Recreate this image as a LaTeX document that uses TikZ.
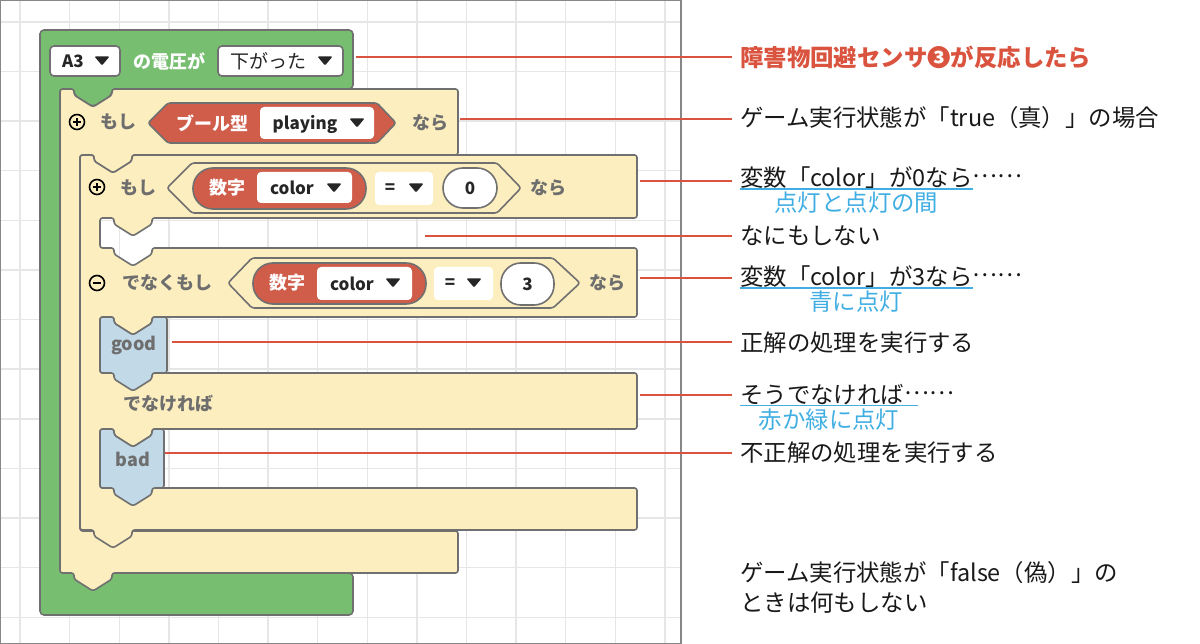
\documentclass[tikz,border=0pt]{standalone}
\usepackage{fontspec}
\setmainfont{Noto Sans CJK JP}
\newfontfamily\jpfull[CharacterWidth=Full]{Noto Sans CJK JP}
\usetikzlibrary{positioning}

\definecolor{hatgreen}{RGB}{119,190,113}
\definecolor{ifyellow}{RGB}{252,238,190}
\definecolor{edgegray}{RGB}{112,112,112}
\definecolor{ledblue}{RGB}{194,217,232}
\definecolor{varred}{RGB}{208,92,74}
\definecolor{wordgray}{RGB}{110,110,110}
\definecolor{calloutred}{RGB}{218,83,62}
\definecolor{noteblue}{RGB}{64,174,226}
\definecolor{gridgray}{RGB}{230,230,230}
\definecolor{framegray}{RGB}{135,135,135}

\tikzset{
  notch/.style 2 args={insert path={-- ({#1+14},#2) -- ({#1+14},{#2+6}) -- ({#1+33},{#2+18}) -- ({#1+52},{#2+6}) -- ({#1+52},#2)}},
  tab/.style 2 args={insert path={-- ({#1+52},#2) -- ({#1+52},{#2+6}) -- ({#1+33},{#2+18}) -- ({#1+14},{#2+6}) -- ({#1+14},#2)}},
  block/.style={draw=edgegray, line width=1.6pt, rounded corners=2.5pt, line join=round},
  word/.style={font=\bfseries\fontsize{18}{20}\selectfont, text=wordgray, inner sep=0pt},
  lbl/.style={font=\bfseries\fontsize{17}{20}\selectfont, text=black!85, inner sep=0pt},
  ddbox/.style={draw=edgegray, line width=1.6pt, fill=white, rounded corners=4pt, inner sep=0pt},
  valbox/.style={fill=white, rounded corners=4pt, inner sep=0pt},
  pill/.style={draw=edgegray, line width=1.6pt, fill=varred, rounded corners=20pt, inner sep=0pt},
  numpill/.style={draw=edgegray, line width=1.6pt, fill=white, rounded corners=20pt, inner sep=0pt},
  sign/.style={draw=black, line width=1.6pt, circle, minimum size=15pt, inner sep=0pt},
  ann/.style={anchor=west, inner sep=0pt, font=\fontsize{23.4}{30}\selectfont, text=black!90},
  note/.style={inner sep=0pt, font=\fontsize{23.4}{30}\selectfont, text=noteblue},
  callout/.style={draw=calloutred, line width=1.5pt, shorten >=8pt},
  uline/.style={draw=noteblue, line width=1.5pt}
}
\newcommand{\ddtri}[2]{\fill[black!85, rounded corners=1pt] ({#1-7.5},{#2-4.5}) -- ({#1+7.5},{#2-4.5}) -- (#1,{#2+4.5}) -- cycle;}
\newcommand{\dotsmid}{\raisebox{0.18em}{\jpfull ……}}

\begin{document}
\begin{tikzpicture}[x=1pt, y=-1pt]
\useasboundingbox (0,0) rectangle (1200,644);

% work area
\foreach \i in {0,...,13}
  \draw[gridgray, line width=1.4pt] ({20+49.6*\i},1) -- ({20+49.6*\i},643);
\foreach \j in {0,...,12}
  \draw[gridgray, line width=1.4pt] (1,{22+49.6*\j}) -- (681,{22+49.6*\j});
\draw[framegray, line width=1.2pt] (0.6,0.6) rectangle (681,643.4);

% blocks
\draw[block, fill=hatgreen, rounded corners=4pt] (40,30) -- (353,30) -- (353,89) [tab={60}{89}] -- (60,89)
  -- (60,573) -- (353,573) -- (353,615) -- (40,615) -- cycle;
\draw[block, fill=ifyellow] (60,89) [notch={60}{89}] -- (458,89) -- (458,155) [tab={80}{155}] -- (80,155)
  -- (80,531) -- (458,531) -- (458,573) [tab={60}{573}] -- (60,573) -- cycle;
\draw[block, fill=ifyellow] (80,155) [notch={80}{155}] -- (637,155) -- (637,218) [tab={100}{218}] -- (100,218)
  -- (100,248) [notch={100}{248}] -- (637,248) -- (637,317) [tab={100}{317}] -- (100,317)
  -- (100,373) -- (637,373) -- (637,429) [tab={100}{429}] -- (100,429)
  -- (100,488) -- (637,488) -- (637,530) [tab={80}{530}] -- (80,530) -- cycle;
\draw[block, fill=ledblue] (100,317) [notch={100}{317}] -- (167,317) -- (167,373) [tab={100}{373}] -- (100,373) -- cycle;
\draw[block, fill=ledblue] (100,429) [notch={100}{429}] -- (164,429) -- (164,488) [tab={100}{488}] -- (100,488) -- cycle;

% hat block row
\node[ddbox, minimum width=70pt, minimum height=30pt] (pinbox) at (85,61) {};
\node[lbl] (pin) at (73,61) {A3};
\ddtri{102}{61}
\node[word, text=white] (volt) at (169,61) {の電圧が};
\node[ddbox, minimum width=125pt, minimum height=30pt] (edgebox) at (280.5,61) {};
\node[lbl, font=\fontsize{19}{20}\selectfont] (edge) at (268,61) {下がった};
\ddtri{325}{61}

% outer if row
\node[sign] (plus1) at (77,122) {};
\draw[line width=1.6pt] ([xshift=-4pt]plus1.center) -- ([xshift=4pt]plus1.center)
  ([yshift=-4pt]plus1.center) -- ([yshift=4pt]plus1.center);
\node[word] (if1) at (118,122) {もし};
\draw[block, fill=varred] (148,123) -- (168,103) -- (377,103) -- (396,123) -- (377,143) -- (168,143) -- cycle;
\node[word, text=white] (booltype) at (212,123) {ブール型};
\node[valbox, minimum width=114pt, minimum height=32pt] (playbox) at (317,123) {};
\node[lbl] (play) at (305,124) {playing};
\ddtri{357}{123}
\node[word] (then1) at (430,123) {なら};

% inner if row
\node[sign] (plus2) at (97,187) {};
\draw[line width=1.6pt] ([xshift=-4pt]plus2.center) -- ([xshift=4pt]plus2.center)
  ([yshift=-4pt]plus2.center) -- ([yshift=4pt]plus2.center);
\node[word] (if2) at (138,188) {もし};
\draw[block, fill=ifyellow] (167,188) -- (192,163) -- (497,163) -- (521,188) -- (497,213) -- (192,213) -- cycle;
\node[pill, minimum width=173pt, minimum height=41pt] (num1) at (279.5,188.5) {};
\node[word, text=white] (numtype1) at (227,188) {数字};
\node[valbox, minimum width=95pt, minimum height=31pt] (varbox1) at (304.5,187.5) {};
\node[lbl] (var1) at (292,188) {color};
\ddtri{334}{188}
\node[valbox, minimum width=58pt, minimum height=33pt] (eqbox1) at (404,188.5) {};
\node[lbl] (eq1) at (390,189) {=};
\ddtri{416}{188}
\node[numpill, minimum width=54pt, minimum height=40pt] (zero) at (470,188) {};
\node[lbl] (zerotxt) at (470,188) {0};
\node[word] (then2) at (548,188) {なら};

% else if row
\node[sign] (minus1) at (97,283) {};
\draw[line width=1.6pt] ([xshift=-4pt]minus1.center) -- ([xshift=4pt]minus1.center);
\node[word] (elif) at (167,283) {でなくもし};
\draw[block, fill=ifyellow] (228,283) -- (252,258) -- (553,258) -- (580,283) -- (553,308) -- (252,308) -- cycle;
\node[pill, minimum width=173pt, minimum height=41pt] (num2) at (339.5,283.5) {};
\node[word, text=white] (numtype2) at (287,283) {数字};
\node[valbox, minimum width=95pt, minimum height=33pt] (varbox2) at (364.5,283.5) {};
\node[lbl] (var2) at (352,284) {color};
\ddtri{393}{283}
\node[valbox, minimum width=59pt, minimum height=33pt] (eqbox2) at (463.5,283.5) {};
\node[lbl] (eq2) at (450,284) {=};
\ddtri{474}{283}
\node[numpill, minimum width=53pt, minimum height=42pt] (three) at (527.5,284) {};
\node[lbl] (threetxt) at (527.5,284) {3};
\node[word] (then3) at (607,283) {なら};

\node[word] (else) at (168,404) {でなければ};
\node[word] (good) at (134,345) {good};
\node[word] (bad) at (133,459) {bad};

% notes
\node[ann, text=calloutred, font=\bfseries\fontsize{23.4}{30}\selectfont] (t1) at (740,57) {障害物回避センサ❸が反応したら};
\node[ann] (t2) at (740,118) {ゲーム実行状態が「true（真）」の場合};
\node[ann] (t3) at (740,178) {変数「color」が0なら};
\node[ann, right=0pt of t3] (t3d) {\dotsmid};
\node[note, below=3pt of t3] (n3) {点灯と点灯の間};
\node[ann] (t4) at (740,236) {なにもしない};
\node[ann] (t5) at (740,277) {変数「color」が3なら};
\node[ann, right=0pt of t5] (t5d) {\dotsmid};
\node[note, below=3pt of t5] (n5) {青に点灯};
\node[ann] (t6) at (740,343) {正解の処理を実行する};
\node[ann] (t7) at (740,395) {そうでなければ};
\node[ann, right=0pt of t7] (t7d) {\dotsmid};
\coordinate (u7) at ([xshift=14pt]t7.south east);
\coordinate (m7) at (829,0);
\coordinate (b7) at (t7.south west -| m7);
\node[note, below=3pt of b7] (n7) {赤か緑に点灯};
\node[ann] (t8) at (740,453) {不正解の処理を実行する};
\node[ann, align=left] (t9) at (740,587) {ゲーム実行状態が「false（偽）」の\\ときは何もしない};

\draw[uline] (t3.south west) -- (t3.south east);
\draw[uline] (t5.south west) -- (t5.south east);
\draw[uline] (t7.south west) -- (u7);

\coordinate (c1) at (356,57);
\coordinate (c2) at (460,119);
\coordinate (c3) at (640,181);
\coordinate (c4) at (425,236);
\coordinate (c5) at (640,278);
\coordinate (c6) at (172,342);
\coordinate (c7) at (640,395);
\coordinate (c8) at (165,453);
\draw[callout] (c1) -- (c1 -| t1.west);
\draw[callout] (c2) -- (c2 -| t2.west);
\draw[callout] (c3) -- (c3 -| t3.west);
\draw[callout] (c4) -- (c4 -| t4.west);
\draw[callout] (c5) -- (c5 -| t5.west);
\draw[callout] (c6) -- (c6 -| t6.west);
\draw[callout] (c7) -- (c7 -| t7.west);
\draw[callout] (c8) -- (c8 -| t8.west);
\end{tikzpicture}
\end{document}
